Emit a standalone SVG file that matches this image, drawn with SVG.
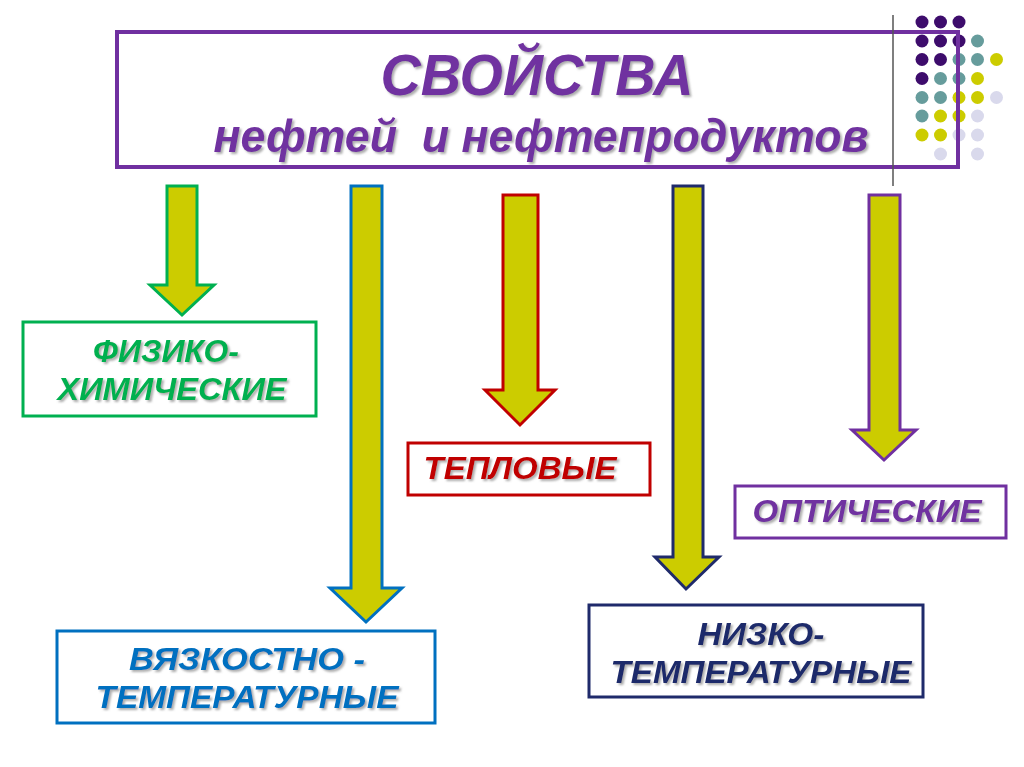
<svg xmlns="http://www.w3.org/2000/svg" width="1024" height="767" viewBox="0 0 1024 767">
<defs>
<filter id="sh" x="-10%" y="-20%" width="130%" height="150%">
<feDropShadow dx="2" dy="2" stdDeviation="1" flood-color="#777" flood-opacity="0.6"/>
</filter>
<style>
.t{font-family:"Liberation Sans",Arial,sans-serif;font-weight:bold;font-style:italic;text-anchor:middle;filter:url(#sh)}
.box{fill:#fff;stroke-width:3}
.arr{fill:#cccc00;stroke-width:3;stroke-linejoin:miter}
.d{fill:#3d0c6c}.g{fill:#669c9c}.y{fill:#cccc00}.l{fill:#d9d9ec}
</style>
</defs>
<rect width="1024" height="767" fill="#fff"/>
<g id="dots">
<circle class="d" cx="922" cy="22" r="6.5"/><circle class="d" cx="940.5" cy="22" r="6.5"/><circle class="d" cx="959" cy="22" r="6.5"/>
<circle class="d" cx="922" cy="41" r="6.5"/><circle class="d" cx="940.5" cy="41" r="6.5"/><circle class="d" cx="959" cy="41" r="6.5"/><circle class="g" cx="977.5" cy="41" r="6.5"/>
<circle class="d" cx="922" cy="59.5" r="6.5"/><circle class="d" cx="940.5" cy="59.5" r="6.5"/><circle class="g" cx="959" cy="59.5" r="6.5"/><circle class="g" cx="977.5" cy="59.5" r="6.5"/><circle class="y" cx="996.5" cy="59.5" r="6.5"/>
<circle class="d" cx="922" cy="78.5" r="6.5"/><circle class="g" cx="940.5" cy="78.5" r="6.5"/><circle class="g" cx="959" cy="78.5" r="6.5"/><circle class="y" cx="977.5" cy="78.5" r="6.5"/>
<circle class="g" cx="922" cy="97.5" r="6.5"/><circle class="g" cx="940.5" cy="97.5" r="6.5"/><circle class="y" cx="959" cy="97.5" r="6.5"/><circle class="y" cx="977.5" cy="97.5" r="6.5"/><circle class="l" cx="996.5" cy="97.5" r="6.5"/>
<circle class="g" cx="922" cy="116" r="6.5"/><circle class="y" cx="940.5" cy="116" r="6.5"/><circle class="y" cx="959" cy="116" r="6.5"/><circle class="l" cx="977.5" cy="116" r="6.5"/>
<circle class="y" cx="922" cy="135" r="6.5"/><circle class="y" cx="940.5" cy="135" r="6.5"/><circle class="l" cx="959" cy="135" r="6.5"/><circle class="l" cx="977.5" cy="135" r="6.5"/>
<circle class="l" cx="940.5" cy="154" r="6.5"/><circle class="l" cx="977.5" cy="154" r="6.5"/>
</g>
<g id="title">
<rect x="117" y="32" width="841" height="135" fill="none" stroke="#7030a0" stroke-width="4"/>
<text class="t" x="537" y="95" font-size="58" fill="#7030a0" textLength="313" lengthAdjust="spacingAndGlyphs">СВОЙСТВА</text>
<text class="t" x="541" y="152" font-size="46" fill="#7030a0" xml:space="preserve" textLength="655" lengthAdjust="spacingAndGlyphs">нефтей  и нефтепродуктов</text>
</g>
<line x1="893" y1="15" x2="893" y2="186" stroke="#555" stroke-width="1.5"/>
<g id="connectors">
<polygon class="arr" stroke="#00b050" points="167,186 197,186 197,285 214,285 182,315 150,285 167,285"/>
<polygon class="arr" stroke="#0070c0" points="351,186 382,186 382,588 402,588 366,622 330,588 351,588"/>
<polygon class="arr" stroke="#c00000" points="503,195 538,195 538,390 555,390 520,425 485,390 503,390"/>
<polygon class="arr" stroke="#1f2a6b" points="673,186 703,186 703,557 719,557 686,589 655,557 673,557"/>
<polygon class="arr" stroke="#7030a0" points="869,195 900,195 900,430 916,430 884,460 852,430 869,430"/>
</g>
<g id="fiziko">
<rect class="box" x="23" y="322" width="293" height="94" stroke="#00b050"/>
<text class="t" x="166" y="362" font-size="32" fill="#00b050" textLength="146" lengthAdjust="spacingAndGlyphs">ФИЗИКО-</text>
<text class="t" x="172" y="400" font-size="32" fill="#00b050" textLength="229" lengthAdjust="spacingAndGlyphs">ХИМИЧЕСКИЕ</text>
</g>
<g id="vyazko">
<rect class="box" x="57" y="631" width="378" height="92" stroke="#0070c0"/>
<text class="t" x="247" y="670" font-size="32" fill="#0070c0" textLength="236" lengthAdjust="spacingAndGlyphs">ВЯЗКОСТНО -</text>
<text class="t" x="247" y="708" font-size="32" fill="#0070c0" textLength="303" lengthAdjust="spacingAndGlyphs">ТЕМПЕРАТУРНЫЕ</text>
</g>
<g id="teplovye">
<rect class="box" x="408" y="443" width="242" height="52" stroke="#c00000"/>
<text class="t" x="520" y="479" font-size="32" fill="#c00000" textLength="193" lengthAdjust="spacingAndGlyphs">ТЕПЛОВЫЕ</text>
</g>
<g id="nizko">
<rect class="box" x="589" y="605" width="334" height="92" stroke="#1f2a6b"/>
<text class="t" x="761" y="645" font-size="32" fill="#1f2a6b" textLength="127" lengthAdjust="spacingAndGlyphs">НИЗКО-</text>
<text class="t" x="761" y="683" font-size="32" fill="#1f2a6b" textLength="301" lengthAdjust="spacingAndGlyphs">ТЕМПЕРАТУРНЫЕ</text>
</g>
<g id="opticheskie">
<rect class="box" x="735" y="486" width="271" height="52" stroke="#7030a0"/>
<text class="t" x="867" y="522" font-size="32" fill="#7030a0" textLength="229" lengthAdjust="spacingAndGlyphs">ОПТИЧЕСКИЕ</text>
</g>
</svg>
